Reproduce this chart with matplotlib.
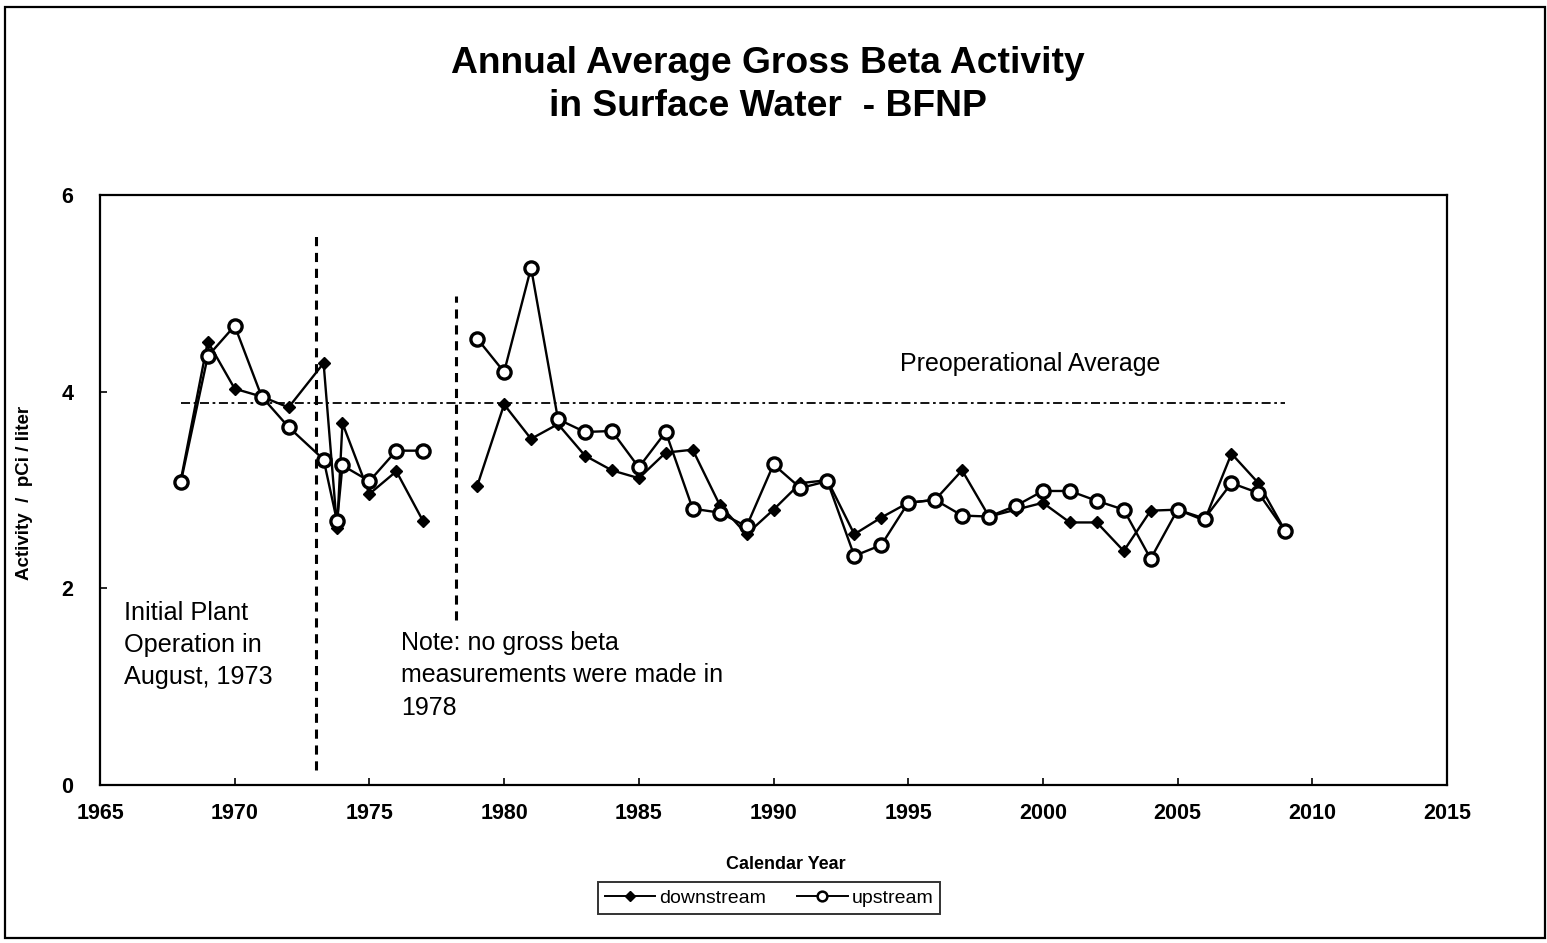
import numpy as np
import matplotlib
matplotlib.use("Agg")
import matplotlib.pyplot as plt
from matplotlib.patches import Rectangle
from matplotlib.lines import Line2D

plt.rcParams['font.family'] = ['Liberation Sans', 'DejaVu Sans']

# ---- data ----
down_years = [1968, 1969, 1970, 1971, 1972, 1973.3, 1973.8, 1974, 1975, 1976, 1977,
              1979, 1980, 1981, 1982, 1983, 1984, 1985, 1986, 1987, 1988, 1989, 1990,
              1991, 1992, 1993, 1994, 1995, 1996, 1997, 1998, 1999, 2000, 2001, 2002,
              2003, 2004, 2005, 2006, 2007, 2008, 2009]
down_vals = [3.10, 4.51, 4.03, 3.95, 3.84, 4.29, 2.61, 3.68, 2.96, 3.19, 2.68,
             3.04, 3.87, 3.52, 3.67, 3.35, 3.20, 3.12, 3.38, 3.41, 2.85, 2.55, 2.80,
             3.07, 3.10, 2.55, 2.72, 2.87, 2.90, 3.20, 2.73, 2.80, 2.87, 2.67, 2.67,
             2.38, 2.79, 2.80, 2.69, 3.37, 3.07, 2.58]

up_years = [1968, 1969, 1970, 1971, 1972, 1973.3, 1973.8, 1974, 1975, 1976, 1977,
            1979, 1980, 1981, 1982, 1983, 1984, 1985, 1986, 1987, 1988, 1989, 1990,
            1991, 1992, 1993, 1994, 1995, 1996, 1997, 1998, 1999, 2000, 2001, 2002,
            2003, 2004, 2005, 2006, 2007, 2008, 2009]
up_vals = [3.08, 4.36, 4.67, 3.95, 3.64, 3.31, 2.68, 3.25, 3.09, 3.40, 3.40,
           4.54, 4.20, 5.26, 3.72, 3.59, 3.60, 3.23, 3.59, 2.81, 2.77, 2.63, 3.26,
           3.02, 3.09, 2.33, 2.44, 2.87, 2.90, 2.74, 2.73, 2.84, 2.99, 2.99, 2.89,
           2.80, 2.30, 2.80, 2.71, 3.07, 2.97, 2.58]

gap_year = 1978          # no measurements
preop_avg = 3.88
preop_span = [1968, 2009]
op_start_year = 1973
x_ticks = [1965, 1970, 1975, 1980, 1985, 1990, 1995, 2000, 2005, 2010, 2015]
y_ticks = [0, 2, 4, 6]

# ---- figure ----
fig = plt.figure(figsize=(15.47, 9.43), dpi=100)
ax = fig.add_axes([100/1547, 1-785/943, 1347/1547, 590/943])

def split(xs, ys):
    xs = np.asarray(xs, float); ys = np.asarray(ys, float)
    m = xs < gap_year
    return (xs[m], ys[m]), (xs[~m], ys[~m])

for seg in split(down_years, down_vals):
    ax.plot(seg[0], seg[1], color='black', lw=1.7, marker='D', ms=6,
            mfc='black', mec='black', zorder=3)
for seg in split(up_years, up_vals):
    ax.plot(seg[0], seg[1], color='black', lw=1.7, marker='o', ms=9.5,
            mfc='white', mec='black', mew=2.4, zorder=4)

# preoperational average
ax.plot(preop_span, [preop_avg, preop_avg], color='black', lw=1.3,
        dashes=(5, 2, 1.5, 2), zorder=2)

# vertical dashed markers
ax.plot([op_start_year, op_start_year], [0.15, 5.62], color='black', lw=2.2,
        dashes=(3, 2.2), zorder=2)
ax.plot([gap_year + 0.2, gap_year + 0.2], [1.68, 4.97], color='black', lw=2.2,
        dashes=(3, 2.2), zorder=2)

ax.set_xlim(1965, 2015)
ax.set_ylim(0, 6)
ax.set_xticks(x_ticks)
ax.set_yticks(y_ticks)
ax.tick_params(direction='in', length=5, width=1.2)
ax.tick_params(axis='x', pad=13)
ax.tick_params(axis='y', pad=19)
for lab in ax.get_xticklabels() + ax.get_yticklabels():
    lab.set_fontweight('bold')
    lab.set_fontsize(15.5)
for s in ax.spines.values():
    s.set_linewidth(1.6)

ax.set_xlabel('Calendar Year', fontsize=13, fontweight='bold')
ax.xaxis.set_label_coords(0.509, -0.12)
ax.set_ylabel('Activity  /  pCi / liter', fontsize=13.5, fontweight='bold')
ax.yaxis.set_label_coords(-0.05, 0.495)

# annotations
ax.text(1965.9, 1.87, 'Initial Plant\nOperation in\nAugust, 1973', fontsize=18.2,
        va='top', ha='left', linespacing=1.42)
ax.text(1976.17, 1.57, 'Note: no gross beta\nmeasurements were made in\n1978',
        fontsize=18.0, va='top', ha='left', linespacing=1.45)
ax.text(1994.7, 4.28, 'Preoperational Average', fontsize=18, va='center', ha='left')

# title
fig.text(0.4965, 0.910, 'Annual Average Gross Beta Activity\nin Surface Water  - BFNP',
         ha='center', va='center', fontsize=26.8, fontweight='bold', linespacing=1.27)

# legend
handles = [Line2D([], [], color='black', lw=1.4, marker='D', ms=5, mfc='black'),
           Line2D([], [], color='black', lw=1.4, marker='o', ms=7, mfc='white', mew=1.8)]
leg = fig.legend(handles, ['downstream', 'upstream'], loc='center',
                 bbox_to_anchor=(0.497, 0.0477), ncol=2,
                 frameon=True, fancybox=False, edgecolor='black', borderpad=0.35,
                 handlelength=2.6, handletextpad=0.2, columnspacing=1.6,
                 prop={'family': ['Liberation Sans Narrow', 'Liberation Sans'], 'size': 14})
leg.get_frame().set_linewidth(1.4)

# outer border
fig.patches.append(Rectangle((5/1547, 1-938/943), 1540/1547, 931/943,
                             transform=fig.transFigure, fill=False,
                             edgecolor='black', lw=1.6))

fig.savefig('out.png', dpi=100)
